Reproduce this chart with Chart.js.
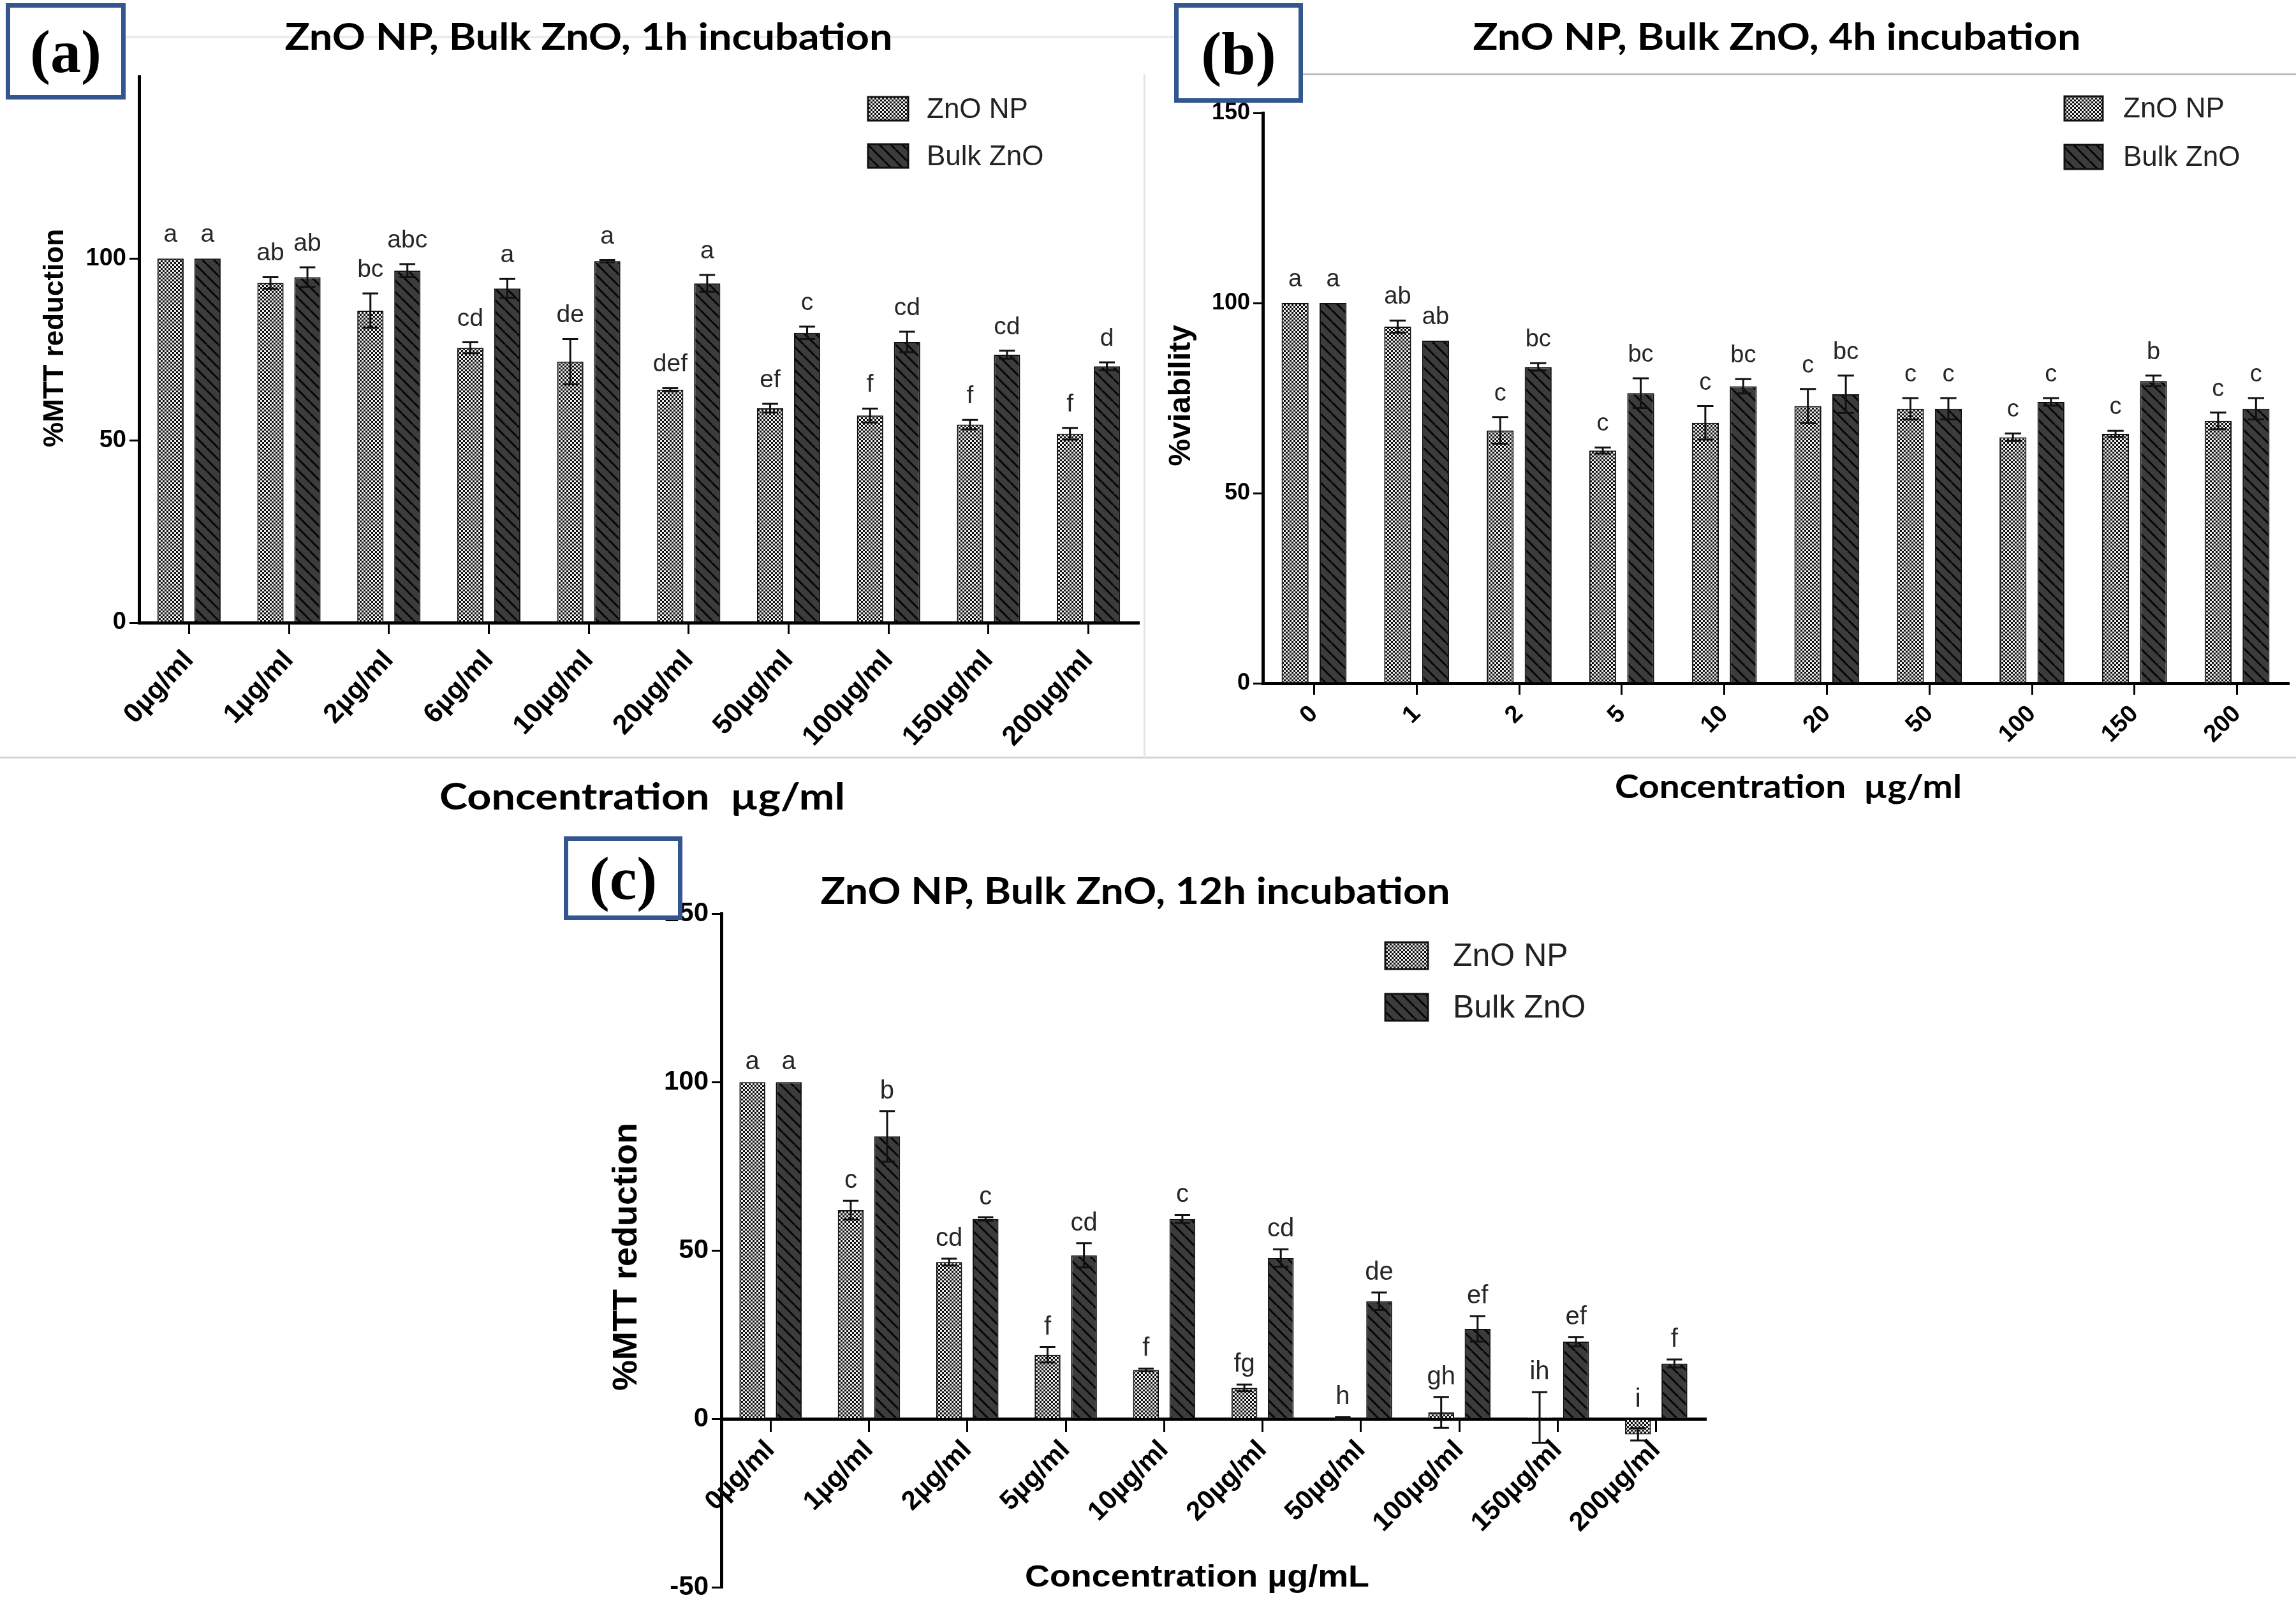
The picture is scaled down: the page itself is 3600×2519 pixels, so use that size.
<!DOCTYPE html>
<html>
<head>
<meta charset="utf-8">
<script src="https://cdn.jsdelivr.net/npm/chart.js@4.4.1/dist/chart.umd.min.js"></script>
<style>
  html, body { margin: 0; padding: 0; background: #fff; }
  body { width: 3600px; height: 2519px; position: relative; overflow: hidden; }
  canvas { position: absolute; }
  .rule { position: absolute; background: #d2d2d2; }
  .tag {
    position: absolute; box-sizing: border-box; z-index: 5;
    border: 7px solid #34568f; background: #fff; color: #000;
    font: bold 96px "Liberation Serif", "Times New Roman", serif;
    display: flex; align-items: center; justify-content: center;
  }
</style>
</head>
<body>
<div class="rule" style="left:0;top:1186px;width:3600px;height:3px;"></div>
<div class="rule" style="left:2043px;top:115px;width:1557px;height:3px;background:#bdbdbd;"></div>
<div class="rule" style="left:197px;top:56px;width:1644px;height:4px;background:#ececec;"></div>
<div class="rule" style="left:1793px;top:116px;width:3px;height:1072px;background:#e4e4e4;"></div>

<canvas id="chart1h" width="1800" height="1300" style="left:0;top:0;"></canvas>
<canvas id="chart4h" width="1800" height="1300" style="left:1800px;top:0;"></canvas>
<canvas id="chart12h" width="1900" height="1229" style="left:850px;top:1290px;"></canvas>

<div class="tag" style="left:9px;top:5px;width:188px;height:151px;">(a)</div>
<div class="tag" style="left:1841px;top:5px;width:202px;height:156px;">(b)</div>
<div class="tag" style="left:884px;top:1311px;width:186px;height:131px;">(c)</div>

<script>
// ---- data ----
const seriesNames = ["ZnO NP", "Bulk ZnO"];

const labels1h = ["0µg/ml", "1µg/ml", "2µg/ml", "6µg/ml", "10µg/ml", "20µg/ml", "50µg/ml", "100µg/ml", "150µg/ml", "200µg/ml"];
const np1h = [100, 93.3, 85.7, 75.5, 71.7, 64.0, 58.9, 56.9, 54.4, 51.9];
const np1hErr = [0, 1.6, 4.7, 1.5, 6.2, 0.4, 1.2, 1.9, 1.3, 1.6];
const bulk1h = [100, 94.9, 96.7, 91.8, 99.3, 93.2, 79.6, 77.1, 73.6, 70.4];
const bulk1hErr = [0, 2.7, 1.8, 2.6, 0.3, 2.3, 1.7, 2.8, 1.1, 1.1];
const np1hGroups = ["a", "ab", "bc", "cd", "de", "def", "ef", "f", "f", "f"];
const bulk1hGroups = ["a", "ab", "abc", "a", "a", "a", "c", "cd", "cd", "d"];

const labels4h = ["0", "1", "2", "5", "10", "20", "50", "100", "150", "200"];
const np4h = [100, 93.8, 66.5, 61.2, 68.5, 72.9, 72.2, 64.7, 65.6, 69.0];
const np4hErr = [0, 1.6, 3.5, 0.8, 4.4, 4.5, 2.8, 1.0, 0.8, 2.2];
const bulk4h = [100, 90.1, 83.2, 76.3, 78.1, 76.0, 72.2, 74.0, 79.5, 72.2];
const bulk4hErr = [0, 0, 1.0, 3.9, 1.9, 4.9, 2.8, 1.0, 1.4, 2.8];
const np4hGroups = ["a", "ab", "c", "c", "c", "c", "c", "c", "c", "c"];
const bulk4hGroups = ["a", "ab", "bc", "bc", "bc", "bc", "c", "c", "b", "c"];

const labels12h = ["0µg/ml", "1µg/ml", "2µg/ml", "5µg/ml", "10µg/ml", "20µg/ml", "50µg/ml", "100µg/ml", "150µg/ml", "200µg/ml"];
const np12h = [100, 62.0, 46.6, 19.1, 14.6, 9.3, 0.3, 2.0, 0.5, -4.5];
const np12hErr = [0, 2.8, 1.0, 2.3, 0.4, 1.0, 0.3, 4.6, 7.5, 1.8];
const bulk12h = [100, 83.9, 59.4, 48.6, 59.4, 47.8, 35.0, 26.8, 23.0, 16.5];
const bulk12hErr = [0, 7.5, 0.5, 3.6, 1.2, 2.6, 2.6, 3.8, 1.4, 1.2];
const np12hGroups = ["a", "c", "cd", "f", "f", "fg", "h", "gh", "ih", "i"];
const bulk12hGroups = ["a", "b", "c", "cd", "c", "cd", "de", "ef", "ef", "f"];

const SANS = '"Liberation Sans", Arial, sans-serif';
const HEAD = 'Lato, "Open Sans", sans-serif';

// ---- fill patterns ----
function dotPattern() {
  const t = document.createElement("canvas");
  t.width = 6; t.height = 6;
  const g = t.getContext("2d");
  g.fillStyle = "#ececec";
  g.fillRect(0, 0, 6, 6);
  g.fillStyle = "#101010";
  g.fillRect(0, 0, 3, 3);
  g.fillRect(3, 3, 3, 3);
  return g.createPattern(t, "repeat");
}

function hatchPattern() {
  const s = 18;
  const t = document.createElement("canvas");
  t.width = s; t.height = s;
  const g = t.getContext("2d");
  g.fillStyle = "#3c3c3c";
  g.fillRect(0, 0, s, s);
  g.strokeStyle = "#050505";
  g.lineWidth = 3;
  g.beginPath();
  for (const off of [-s, 0, s]) {
    g.moveTo(off, 0);
    g.lineTo(off + s, s);
  }
  g.stroke();
  return g.createPattern(t, "repeat");
}

const npFill = dotPattern();
const bulkFill = hatchPattern();

// draw text centred at (x, y), squeezed or stretched to a given width
function fitText(c, text, x, y, width) {
  const w = c.measureText(text).width;
  c.save();
  c.translate(x, y);
  c.scale(width / w, 1);
  c.fillText(text, 0, 0);
  c.restore();
}

// ---- plugins ----
const errorBars = {
  id: "errorBars",
  afterDatasetsDraw(chart) {
    const c = chart.ctx;
    const y = chart.scales.y;
    chart.data.datasets.forEach((ds, di) => {
      chart.getDatasetMeta(di).data.forEach((bar, i) => {
        const e = ds.errors[i];
        if (!e) return;
        const v = ds.data[i];
        const top = y.getPixelForValue(v + e);
        const bot = y.getPixelForValue(v - e);
        const cap = bar.width * 0.3;
        c.save();
        c.strokeStyle = "#111";
        c.lineWidth = 3;
        c.beginPath();
        c.moveTo(bar.x, top); c.lineTo(bar.x, bot);
        c.moveTo(bar.x - cap, top); c.lineTo(bar.x + cap, top);
        c.moveTo(bar.x - cap, bot); c.lineTo(bar.x + cap, bot);
        c.stroke();
        c.restore();
      });
    });
  }
};

const groupLetters = {
  id: "groupLetters",
  afterDatasetsDraw(chart, args, opts) {
    const c = chart.ctx;
    const y = chart.scales.y;
    c.save();
    c.fillStyle = "#262626";
    c.font = opts.size + "px " + SANS;
    c.textAlign = "center";
    c.textBaseline = "alphabetic";
    chart.data.datasets.forEach((ds, di) => {
      chart.getDatasetMeta(di).data.forEach((bar, i) => {
        const v = ds.data[i];
        const top = Math.max(v + (ds.errors[i] || 0), 0);
        c.fillText(ds.groups[i], bar.x, y.getPixelForValue(top) - opts.gap);
      });
    });
    c.restore();
  }
};

function panelText(p) {
  return {
    id: "panelText",
    afterDraw(chart) {
      const c = chart.ctx;
      c.save();
      c.fillStyle = "#000";
      c.textAlign = "center";
      c.textBaseline = "middle";
      c.font = "bold " + p.titleSize + "px " + HEAD;
      fitText(c, p.title, p.titleX, p.titleY, p.titleW);
      c.font = p.xTitleFont;
      fitText(c, p.xTitle, p.xTitleX, p.xTitleY, p.xTitleW);
      c.save();
      c.translate(p.yTitleX, p.yTitleY);
      c.rotate(-Math.PI / 2);
      c.font = "bold " + p.yTitleSize + "px " + SANS;
      c.fillText(p.yTitle, 0, 0);
      c.restore();

      // legend
      c.textAlign = "left";
      c.font = p.legendSize + "px " + SANS;
      chart.data.datasets.forEach((ds, i) => {
        const bx = p.legendX, by = p.legendY + i * p.legendStep;
        c.fillStyle = ds.backgroundColor;
        c.fillRect(bx, by, p.swatchW, p.swatchH);
        c.strokeStyle = "#111";
        c.lineWidth = 3;
        c.strokeRect(bx, by, p.swatchW, p.swatchH);
        c.fillStyle = "#222";
        c.fillText(ds.label, p.legendTextX, by + p.swatchH / 2 + 2);
      });
      c.restore();
    }
  };
}

function makePanel(id, p) {
  const cv = document.getElementById(id);
  const W = cv.width, H = cv.height;
  const yW = 130;
  const xH = p.axisAtZero ? 0 : 240;
  return new Chart(cv, {
    type: "bar",
    data: {
      labels: p.labels,
      datasets: [
        {
          label: seriesNames[0], data: p.np, errors: p.npErr, groups: p.npGroups,
          backgroundColor: npFill, borderColor: "#111", borderWidth: 2
        },
        {
          label: seriesNames[1], data: p.bulk, errors: p.bulkErr, groups: p.bulkGroups,
          backgroundColor: bulkFill, borderColor: "#111", borderWidth: 2
        }
      ]
    },
    options: {
      responsive: false,
      animation: false,
      devicePixelRatio: 1,
      layout: {
        padding: {
          left: p.area.left - yW,
          top: p.area.top,
          right: W - p.area.right,
          bottom: H - p.area.bottom - xH
        }
      },
      datasets: { bar: { categoryPercentage: 0.74, barPercentage: 0.71 } },
      plugins: {
        legend: { display: false },
        tooltip: { enabled: false },
        groupLetters: { size: p.letterSize, gap: p.letterGap }
      },
      scales: {
        x: {
          position: p.axisAtZero ? { y: 0 } : "bottom",
          offset: true,
          grid: {
            display: true, drawOnChartArea: false, drawTicks: true,
            tickLength: 18, color: "#000", lineWidth: 3, offset: false
          },
          border: { display: true, color: "#000", width: 5 },
          ticks: {
            autoSkip: false, minRotation: p.xRot, maxRotation: p.xRot, padding: p.xPad,
            color: "#000", font: { family: SANS, size: p.xTickSize, weight: "bold" }
          },
          afterFit: (s) => { s.height = xH; }
        },
        y: {
          min: p.yMin, max: 150,
          grid: {
            display: true, drawOnChartArea: false, drawTicks: true,
            tickLength: 15, lineWidth: 3,
            color: (ctx) => (p.hideTop && ctx.tick && ctx.tick.value === 150 ? "rgba(0,0,0,0)" : "#000")
          },
          border: { display: true, color: "#000", width: 5 },
          ticks: {
            stepSize: 50, padding: 5, color: "#000",
            font: { family: SANS, size: p.yTickSize, weight: "bold" },
            callback: (v) => (p.hideTop && v === 150 ? "" : v)
          },
          afterFit: (s) => { s.width = yW; }
        }
      }
    },
    plugins: [errorBars, groupLetters, panelText(p)]
  });
}

makePanel("chart1h", {
  labels: labels1h, np: np1h, npErr: np1hErr, bulk: bulk1h, bulkErr: bulk1hErr,
  npGroups: np1hGroups, bulkGroups: bulk1hGroups,
  area: { left: 218, top: 120, right: 1785, bottom: 976 },
  yMin: 0, hideTop: true, axisAtZero: false,
  xTickSize: 43, xRot: 47, yTickSize: 38, xPad: 16, letterSize: 39, letterGap: 26,
  title: "ZnO NP, Bulk ZnO, 1h incubation", titleSize: 57, titleW: 953, titleX: 923, titleY: 60,
  xTitle: "Concentration  µg/ml", xTitleFont: "bold 57px " + HEAD, xTitleW: 636, xTitleX: 1007, xTitleY: 1251,
  yTitle: "%MTT reduction", yTitleSize: 44, yTitleX: 87, yTitleY: 530,
  legendX: 1361, legendY: 152, legendStep: 74, swatchW: 63, swatchH: 37,
  legendTextX: 1453, legendSize: 44
});

makePanel("chart4h", {
  labels: labels4h, np: np4h, npErr: np4hErr, bulk: bulk4h, bulkErr: bulk4hErr,
  npGroups: np4hGroups, bulkGroups: bulk4hGroups,
  area: { left: 180, top: 177, right: 1788, bottom: 1071 },
  yMin: 0, hideTop: false, axisAtZero: false,
  xTickSize: 38, xRot: 45, yTickSize: 36, xPad: 8, letterSize: 38, letterGap: 26,
  title: "ZnO NP, Bulk ZnO, 4h incubation", titleSize: 57, titleW: 953, titleX: 986, titleY: 60,
  xTitle: "Concentration  µg/ml", xTitleFont: "bold 52px " + HEAD, xTitleW: 544, xTitleX: 1004, xTitleY: 1234,
  yTitle: "%viability", yTitleSize: 48, yTitleX: 53, yTitleY: 620,
  legendX: 1437, legendY: 151, legendStep: 76, swatchW: 60, swatchH: 38,
  legendTextX: 1529, legendSize: 44
});

makePanel("chart12h", {
  labels: labels12h, np: np12h, npErr: np12hErr, bulk: bulk12h, bulkErr: bulk12hErr,
  npGroups: np12hGroups, bulkGroups: bulk12hGroups,
  area: { left: 281, top: 142, right: 1824, bottom: 1202 },
  yMin: -50, hideTop: false, axisAtZero: true,
  xTickSize: 42, xRot: 45, yTickSize: 42, xPad: 6, letterSize: 40, letterGap: 20,
  title: "ZnO NP, Bulk ZnO, 12h incubation", titleSize: 58, titleW: 987, titleX: 930, titleY: 108,
  xTitle: "Concentration µg/mL", xTitleFont: "bold 48px " + SANS, xTitleW: 540, xTitleX: 1027, xTitleY: 1184,
  yTitle: "%MTT reduction", yTitleSize: 54, yTitleX: 133, yTitleY: 680,
  legendX: 1322, legendY: 187, legendStep: 81, swatchW: 67, swatchH: 42,
  legendTextX: 1428, legendSize: 50
});
</script>
</body>
</html>
